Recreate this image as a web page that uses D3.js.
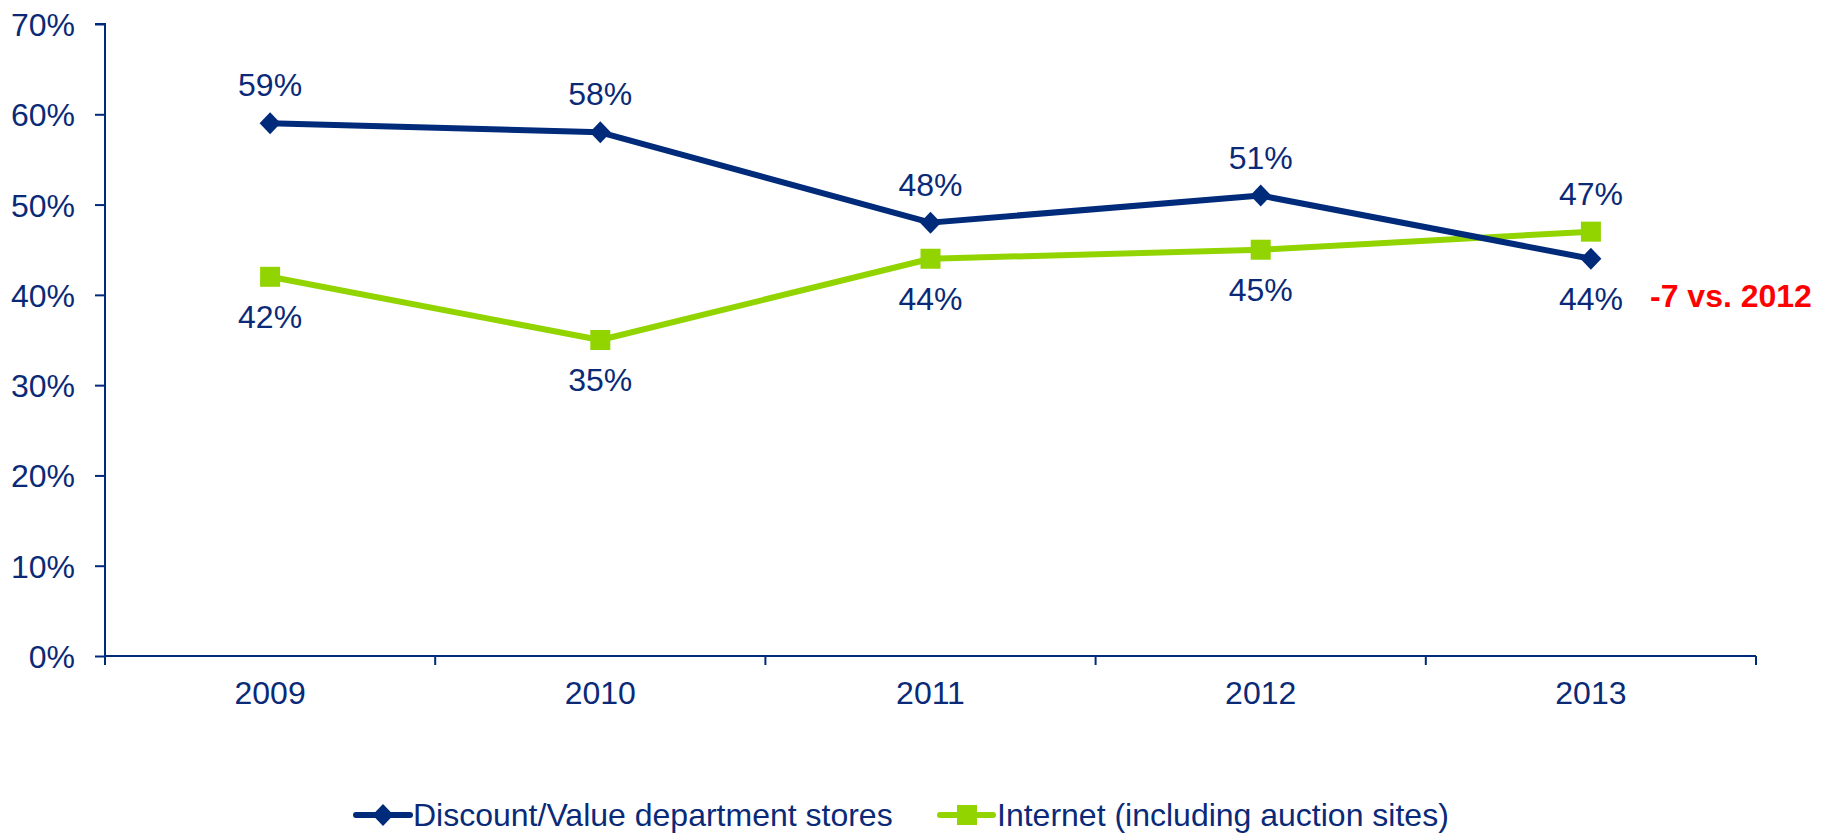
<!DOCTYPE html>
<html>
<head>
<meta charset="utf-8">
<script src="https://cdn.jsdelivr.net/npm/d3@7"></script>
<style>
  html, body { margin: 0; padding: 0; background: #ffffff; }
  svg { display: block; font-family: Arial, "Liberation Sans", sans-serif; }
</style>
</head>
<body>
<svg id="chart" width="1831" height="833"></svg>
<script>
// Share of respondents by shopping channel, 2009–2013
const years = ["2009", "2010", "2011", "2012", "2013"];
const discountValues = [59, 58, 48, 51, 44];
const internetValues = [42, 35, 44, 45, 47];
const yTicks = [0, 10, 20, 30, 40, 50, 60, 70];
const seriesNames = ["Discount/Value department stores", "Internet (including auction sites)"];
const annotationText = "-7 vs. 2012";

const navy = "#002a7a";
const green = "#92d400";
const textColor = "#0a2a78";
const fontSize = "32px";

const svg = d3.select("#chart");

const x = d3.scaleBand().domain(years).range([105, 1756]).padding(0);
const y = d3.scaleLinear().domain([0, 70]).range([656, 24]);
const cx = d => x(d) + x.bandwidth() / 2;

// Y axis
const yAxis = svg.append("g")
  .attr("transform", "translate(105,0)")
  .call(d3.axisLeft(y).tickValues(yTicks).tickFormat(d => d + "%").tickSize(10).tickPadding(20));
yAxis.select(".domain").attr("stroke", navy).attr("stroke-width", 2)
  .attr("d", "M-10," + y(70) + "H0V" + (y(0) + 9));
yAxis.selectAll(".tick line").attr("stroke", navy).attr("stroke-width", 2);
yAxis.selectAll(".tick text").attr("fill", textColor).style("font-size", fontSize)
  .attr("dy", "0.36em");

// X axis with ticks at category boundaries
const xAxis = svg.append("g")
  .attr("transform", "translate(0," + y(0) + ")")
  .call(d3.axisBottom(x).tickSize(0).tickPadding(25));
xAxis.select(".domain").attr("stroke", navy).attr("stroke-width", 2)
  .attr("d", "M105,0H1756");
xAxis.selectAll(".tick text").attr("fill", textColor).style("font-size", fontSize);
const bounds = years.map(d => x(d)).concat([x(years[years.length - 1]) + x.bandwidth()]);
xAxis.selectAll(".bound").data(bounds.slice(1)).enter().append("line")
  .attr("class", "bound")
  .attr("x1", d => d).attr("x2", d => d)
  .attr("y1", 0).attr("y2", 9)
  .attr("stroke", navy).attr("stroke-width", 2);

const line = d3.line().x((d, i) => cx(years[i])).y(d => y(d));

// Internet series
svg.append("path").datum(internetValues)
  .attr("d", line).attr("fill", "none")
  .attr("stroke", green).attr("stroke-width", 6).attr("stroke-linejoin", "round");
svg.selectAll(".sq").data(internetValues).enter().append("rect")
  .attr("x", (d, i) => cx(years[i]) - 10).attr("y", d => y(d) - 10)
  .attr("width", 20).attr("height", 20).attr("fill", green);

// Discount series
svg.append("path").datum(discountValues)
  .attr("d", line).attr("fill", "none")
  .attr("stroke", navy).attr("stroke-width", 6).attr("stroke-linejoin", "round");
const diamond = "M0,-11L10.5,0L0,11L-10.5,0Z";
svg.selectAll(".dm").data(discountValues).enter().append("path")
  .attr("d", diamond)
  .attr("transform", (d, i) => "translate(" + cx(years[i]) + "," + y(d) + ")")
  .attr("fill", navy);

// Value labels: the higher series is labelled above, the lower below
function labelOffset(v, other) { return v >= other ? -27 : 51; }
svg.selectAll(".dl").data(discountValues).enter().append("text")
  .attr("x", (d, i) => cx(years[i]))
  .attr("y", (d, i) => y(d) + labelOffset(d, internetValues[i]))
  .attr("text-anchor", "middle").attr("fill", textColor).style("font-size", fontSize)
  .text(d => d + "%");
svg.selectAll(".il").data(internetValues).enter().append("text")
  .attr("x", (d, i) => cx(years[i]))
  .attr("y", (d, i) => y(d) + labelOffset(d, discountValues[i]))
  .attr("text-anchor", "middle").attr("fill", textColor).style("font-size", fontSize)
  .text(d => d + "%");

// Change annotation next to the last discount point
const last = discountValues.length - 1;
svg.append("text")
  .attr("x", 1650)
  .attr("y", y(discountValues[last]) + 48)
  .attr("fill", "#ff0000").style("font-size", fontSize).style("font-weight", "bold")
  .text(annotationText);

// Legend
const legend = svg.append("g").attr("transform", "translate(0,815)");
legend.append("line").attr("x1", 356).attr("x2", 410).attr("y1", 0).attr("y2", 0)
  .attr("stroke", navy).attr("stroke-width", 6).attr("stroke-linecap", "round");
legend.append("path").attr("d", diamond).attr("transform", "translate(383,0)").attr("fill", navy);
legend.append("text").attr("x", 413).attr("y", 11).attr("fill", textColor)
  .style("font-size", fontSize)
  .text(seriesNames[0]);
legend.append("line").attr("x1", 940).attr("x2", 993).attr("y1", 0).attr("y2", 0)
  .attr("stroke", green).attr("stroke-width", 6).attr("stroke-linecap", "round");
legend.append("rect").attr("x", 957).attr("y", -10).attr("width", 20).attr("height", 20).attr("fill", green);
legend.append("text").attr("x", 997).attr("y", 11).attr("fill", textColor)
  .style("font-size", fontSize)
  .text(seriesNames[1]);
</script>
</body>
</html>
